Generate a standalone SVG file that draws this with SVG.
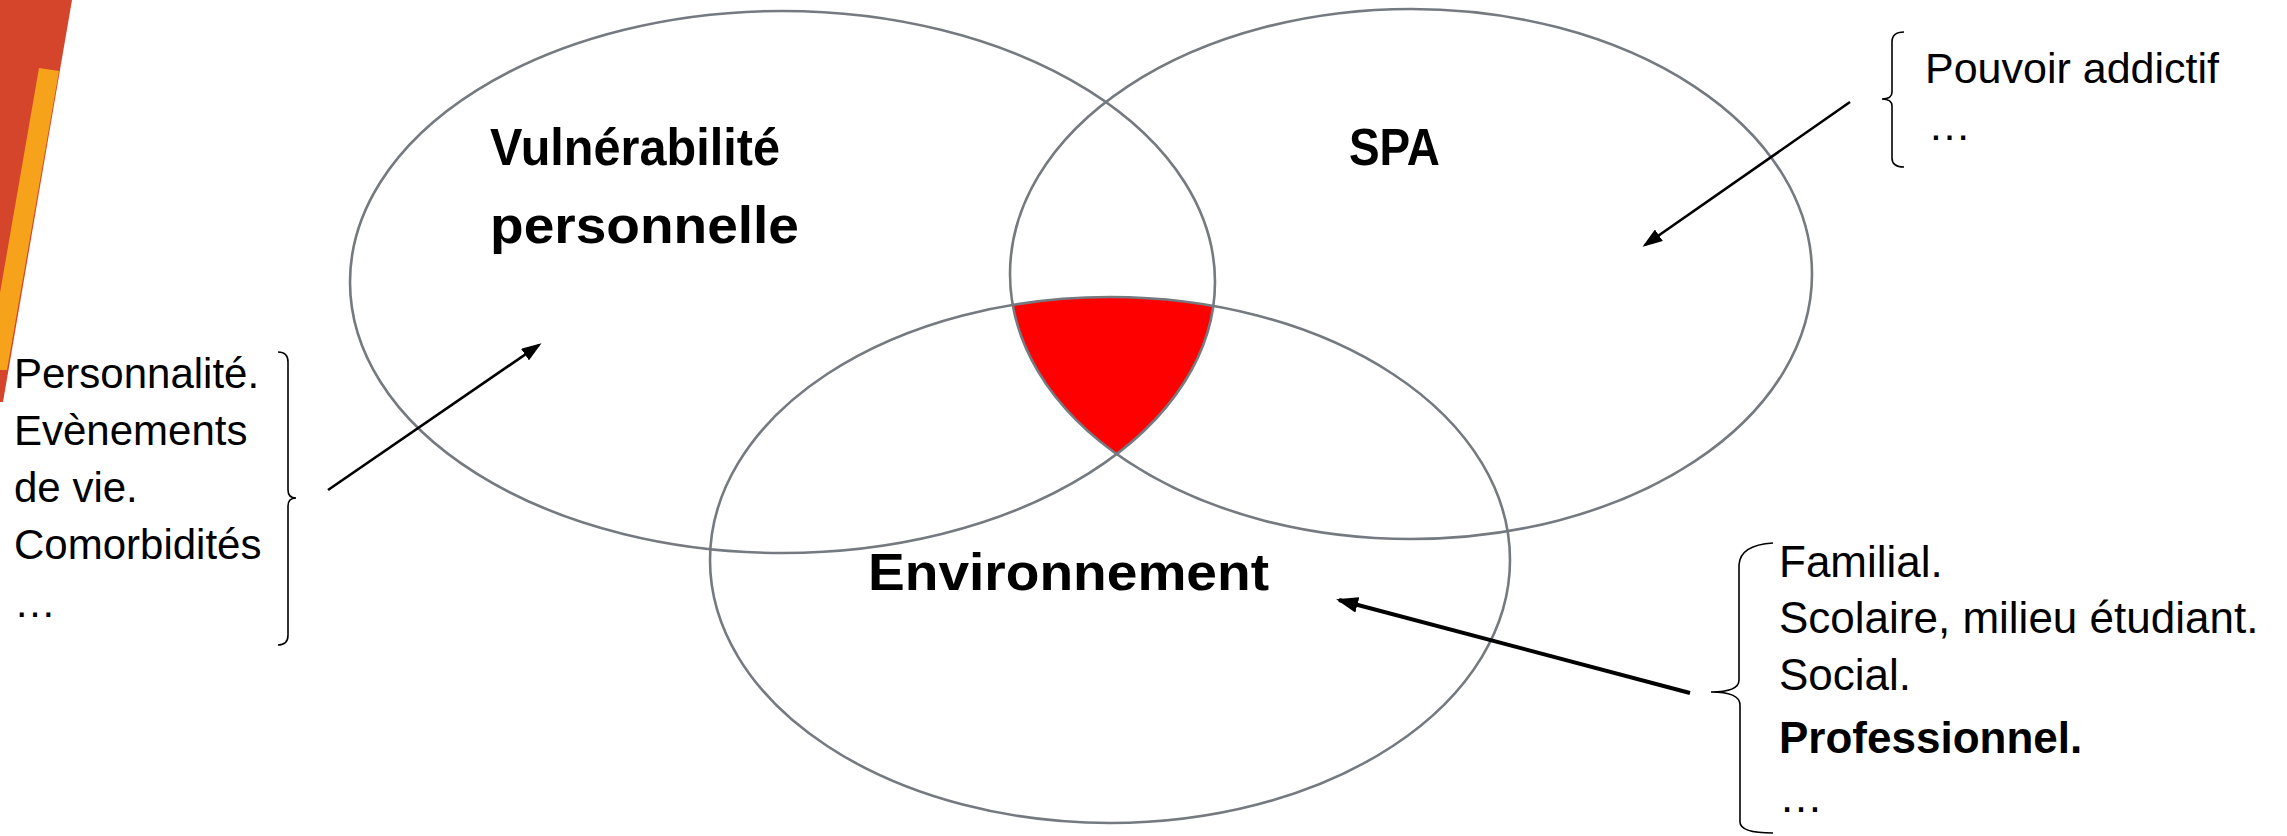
<svg xmlns="http://www.w3.org/2000/svg" width="2287" height="836" viewBox="0 0 2287 836">
<style>
.ell{fill:none;stroke:#747a80;stroke-width:2.6}
.t{font-family:"Liberation Sans",Arial,sans-serif;fill:#000}
.b{font-weight:bold}
.lbl{font-size:42px}
.rl{font-size:44px}
.title{font-size:52px;font-weight:bold}
.br{fill:none;stroke:#000;stroke-width:1.6}
.arr{stroke:#000;fill:none}
</style>
<defs>
<marker id="ah" markerUnits="userSpaceOnUse" markerWidth="20" markerHeight="14" refX="17" refY="7" orient="auto">
<path d="M0,0 L20,7 L0,14 z" fill="#000"/>
</marker>
<marker id="ah2" markerUnits="userSpaceOnUse" markerWidth="22" markerHeight="16" refX="19" refY="8" orient="auto">
<path d="M0,0 L22,8 L0,16 z" fill="#000"/>
</marker>
<clipPath id="c1"><ellipse cx="782.5" cy="282" rx="432.5" ry="271"/></clipPath>
<clipPath id="c2"><ellipse cx="1411" cy="274" rx="401" ry="265"/></clipPath>
</defs>
<rect width="2287" height="836" fill="#fff"/>
<g id="decor">
<polygon points="0,0 72,0 3,402 0,402" fill="#d4452b"/>
<polygon points="39,68 59,71 7,370 0,370 0,293" fill="#f6a31b"/>
</g>
<g id="intersection">
<g clip-path="url(#c1)"><ellipse cx="1110" cy="560" rx="400" ry="263" fill="#ff0000" clip-path="url(#c2)"/></g>
</g>
<g id="vulnerabilite">
<ellipse class="ell" cx="782.5" cy="282" rx="432.5" ry="271"/>
<text class="t title" x="490" y="165" textLength="290" lengthAdjust="spacingAndGlyphs">Vulnérabilité</text>
<text class="t title" x="490" y="243" textLength="309" lengthAdjust="spacingAndGlyphs">personnelle</text>
</g>
<g id="spa">
<ellipse class="ell" cx="1411" cy="274" rx="401" ry="265"/>
<text class="t title" x="1349" y="165" textLength="91" lengthAdjust="spacingAndGlyphs">SPA</text>
</g>
<g id="environnement">
<ellipse class="ell" cx="1110" cy="560" rx="400" ry="263"/>
<text class="t title" x="868" y="590" textLength="401" lengthAdjust="spacingAndGlyphs">Environnement</text>
</g>
<g id="note-left">
<path class="br" d="M278,352 Q288,352 288,362 L288,490 Q288,498 296,498 Q288,498 288,506 L288,635 Q288,645 278,645"/>
<text class="t lbl" x="14" y="388">Personnalité.</text>
<text class="t lbl" x="14" y="445">Evènements</text>
<text class="t lbl" x="14" y="502">de vie.</text>
<text class="t lbl" x="14" y="559">Comorbidités</text>
<text class="t lbl" x="14" y="617">…</text>
</g>
<g id="note-spa">
<path class="br" d="M1904,32 Q1892,32 1892,42 L1892,92 Q1892,99 1882,99 Q1892,99 1892,106 L1892,158 Q1892,167 1904,167"/>
<text class="t" x="1925" y="83" font-size="43">Pouvoir addictif</text>
<text class="t" x="1928" y="140" font-size="43">…</text>
</g>
<g id="note-env">
<path class="br" d="M1773,543 Q1740,545 1739,565 L1739,680 Q1739,692 1711,692 Q1740,692 1740,705 L1740,822 Q1740,833 1773,833"/>
<text class="t rl" x="1779" y="577">Familial.</text>
<text class="t rl" x="1779" y="633">Scolaire, milieu étudiant.</text>
<text class="t rl" x="1779" y="690">Social.</text>
<text class="t rl b" x="1779" y="753" font-size="46">Professionnel.</text>
<text class="t rl" x="1779" y="812">…</text>
</g>
<g id="connectors">
<line class="arr" x1="328" y1="490" x2="539" y2="345" stroke-width="2.6" marker-end="url(#ah)"/>
<line class="arr" x1="1850" y1="102" x2="1645" y2="245" stroke-width="2.6" marker-end="url(#ah)"/>
<line class="arr" x1="1690" y1="693" x2="1339" y2="600" stroke-width="4" marker-end="url(#ah2)"/>
</g>
</svg>
